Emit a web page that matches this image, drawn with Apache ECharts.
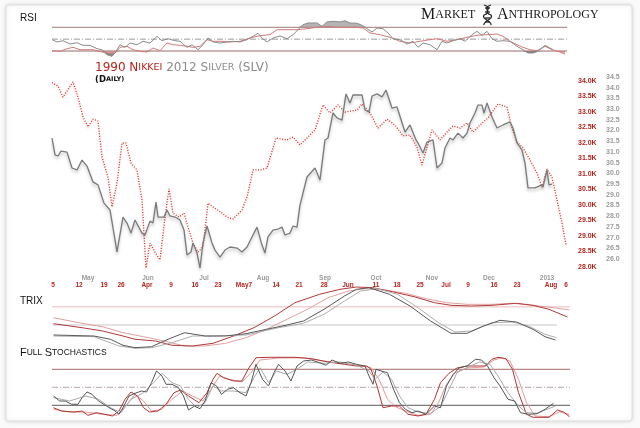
<!DOCTYPE html>
<html>
<head>
<meta charset="utf-8">
<script src="https://cdn.jsdelivr.net/npm/echarts@6/dist/echarts.min.js"></script>
<style>
  html, body { margin: 0; padding: 0; background: #fafafa; }
  #chart { width: 640px; height: 428px; }
</style>
</head>
<body>
<div id="chart"></div>
<script>
// x = trading session counted from the left edge of the chart
const nikkeiClose = [[0,33.95],[1.2,33.84],[2.2,33.48],[4.2,33.97],[5.2,33.48],[6.2,32.84],[7.2,32.52],[8.2,32.77],[9.2,32.71],[10,31.55],[11.2,30.90],[12,29.94],[13,30.71],[14,32.0],[14.8,32.0],[15.8,31.35],[17,31.13],[18,30.16],[18.8,27.97],[19.6,28.77],[20.6,28.48],[21.6,28.23],[22.6,29.61],[23.4,30.52],[24.2,29.74],[25.4,29.61],[26.4,29.74],[27.2,29.29],[28.2,28.77],[29.2,28.48],[30.2,28.65],[31.2,30.06],[32.2,29.94],[34,29.74],[35,29.61],[36.2,29.55],[38,29.84],[39,30.26],[40.2,31.13],[41.6,31.13],[43,31.19],[44.8,32.16],[47,32.10],[48.2,32.19],[49.6,31.94],[51,32.16],[52.6,32.42],[54.2,33.23],[55.6,32.97],[57.2,33.23],[58.6,33.0],[61,33.06],[62,33.26],[63.6,32.97],[65.2,32.48],[67,32.77],[68.6,32.58],[70.2,32.23],[71.6,32.26],[73,31.87],[74,31.29],[75,31.87],[76,32.42],[77.6,32.10],[79,32.35],[80.2,32.55],[81.6,32.48],[83,32.65],[84.2,32.35],[85.6,32.58],[87.2,32.81],[89.2,33.26],[91,33.16],[92,32.48],[93,32.03],[94.2,31.84],[95.6,31.45],[97,31.03],[98,30.58],[99,31.16],[100,30.90],[101,30.16],[102,29.42],[102.8,28.71]];

const silverClose = [[0,31.65],[0.6,30.86],[1.2,30.81],[1.8,31.04],[3,30.99],[4,30.25],[5,30.16],[6,30.62],[7,30.34],[8.2,29.60],[9.2,29.46],[10.4,28.61],[11.6,28.29],[13,26.33],[14.2,27.96],[15,27.68],[15.8,27.21],[16.6,27.82],[17,27.73],[18,27.21],[18.6,27.12],[19.6,27.77],[20.2,27.68],[20.8,28.66],[21.2,27.96],[22.4,27.96],[23,28.29],[23.6,28.01],[24.6,27.96],[25.6,27.82],[26.4,27.35],[27,26.19],[27.8,26.33],[28.2,26.75],[29,26.28],[29.6,25.58],[30.2,26.75],[31,27.54],[32,26.75],[32.6,26.42],[33.6,26.09],[34.6,26.42],[35.6,26.56],[37,26.51],[38,26.33],[39,26.56],[40,27.03],[41,27.49],[42,26.65],[42.6,26.28],[43.2,27.03],[44.2,27.35],[45.2,27.40],[46,27.49],[46.6,27.12],[47.6,27.21],[48.2,27.54],[49,27.49],[49.6,28.52],[51,29.83],[52.6,30.25],[53.6,29.69],[54.6,31.56],[55.2,31.65],[56.2,32.82],[57,32.59],[58,32.49],[58.8,33.71],[59.6,33.29],[60.2,33.66],[62,33.66],[62.6,32.96],[63.4,32.87],[64,33.61],[65,33.71],[66,33.57],[66.8,33.89],[68,33.05],[69,33.10],[70.6,31.93],[71.6,32.26],[72.8,31.56],[73.2,31.42],[74.2,30.95],[75,31.46],[76.2,31.56],[77,30.25],[78,30.48],[78.6,31.18],[79.6,31.65],[80.2,31.56],[81.2,31.88],[82.2,31.65],[83,31.88],[83.6,32.35],[84.6,32.82],[85.2,33.19],[86,33.19],[86.4,32.82],[87,33.29],[88,32.63],[89,32.12],[90.2,32.26],[91.6,32.40],[92.2,32.12],[93,31.42],[94,31.09],[94.6,30.48],[95.2,29.32],[96.6,29.32],[98,29.46],[98.2,29.36],[99,30.16],[99.4,29.46],[100,29.50]];

const silverRsi = [[0,49.1],[1,45.2],[2.2,47.4],[3.6,41.8],[5,44.0],[6.2,39.6],[7.6,39.6],[9,33.9],[10,32.2],[11,23.7],[12,21.0],[12.8,29.5],[13.6,40.6],[14.6,36.2],[15.6,43.5],[17,40.6],[18.2,46.4],[19.6,43.5],[21,54.8],[22,47.4],[23.2,50.8],[24.6,47.4],[25.6,46.4],[27,36.2],[28,40.6],[29.2,32.2],[30.2,40.6],[31.2,51.9],[32.2,45.2],[33.6,43.5],[35,45.2],[36.2,46.4],[37.6,45.2],[39,49.1],[40.2,54.8],[41.2,59.9],[42,51.9],[43,45.2],[44.2,51.9],[45.6,55.3],[47,50.8],[48.2,57.5],[49.2,65.9],[50.2,74.4],[51.2,77.3],[51.6,79.0],[53,77.3],[54,71.7],[55,79.0],[56.2,80.1],[57.6,79.0],[58.6,81.1],[59.6,77.3],[61,76.8],[62,73.4],[63,67.6],[64,62.1],[65,68.8],[66.2,67.6],[67.2,60.4],[68.2,50.8],[69.6,49.1],[71,41.8],[72.2,46.4],[73.2,36.2],[74.2,43.5],[75.6,40.6],[77,32.2],[78,46.4],[79,43.5],[80.2,47.4],[81.6,50.8],[82.6,46.4],[84,57.5],[85,63.2],[86,56.5],[87,63.2],[88,50.8],[89,46.4],[90.2,47.4],[91.6,46.4],[93,37.9],[94.2,32.2],[95.2,26.6],[96.2,26.6],[97.2,29.5],[98.6,39.6],[99.6,35.1],[100.2,32.2]];

const nikkeiRsi = [[0,30.5],[1.6,29.5],[3,33.9],[4.2,36.2],[5.6,32.2],[7,32.2],[8.2,32.2],[10,28.3],[11.2,26.6],[12.6,26.6],[13.6,36.2],[15,37.9],[16.2,32.2],[17.6,29.5],[19,28.3],[20.2,35.1],[21.6,30.5],[23,43.5],[24.2,40.6],[25.6,39.6],[27,37.9],[28.2,36.2],[29.6,37.9],[31,49.1],[32.2,46.4],[34,46.4],[35.6,45.2],[37.6,46.4],[39.6,51.9],[41,54.8],[42.2,56.5],[43.6,57.5],[45,65.9],[47,65.9],[49,65.9],[51,67.6],[53,70.0],[55,71.7],[57,70.0],[59,70.0],[61,70.0],[62.2,68.8],[63.6,60.4],[65.6,57.5],[67.6,53.1],[69.6,46.4],[71.6,43.5],[73.6,46.4],[75.6,49.1],[77,50.8],[79,46.4],[81,49.1],[83,53.1],[85,56.5],[87,57.5],[89,58.7],[90.2,54.8],[91.6,46.4],[93,40.6],[94.2,36.2],[95.6,32.2],[97,30.5],[98.6,37.9],[100,32.2],[101.2,29.5],[102.6,24.9]];

const nikkeiTrix = [[0.3,0.13],[6,-0.27],[10.1,-0.6],[14.2,-1.1],[16.6,-1.43],[20.7,-1.6],[24,-2.03],[28.1,-2.1],[32.2,-1.83],[36.3,-1.1],[40.4,-0.27],[44.5,0.9],[48.6,2.23],[53.5,3.07],[57.6,3.57],[60.9,3.8],[64.2,3.73],[68.3,3.3],[72.4,2.83],[76.5,2.23],[79.8,1.97],[83.9,1.9],[88,1.97],[92.9,2.17],[96.2,1.97],[99.4,1.57],[103.1,0.8]];
const nikkeiTrixSignal = [[0.3,0.73],[6,0.17],[10.1,-0.17],[14.2,-0.77],[18.3,-1.17],[22.4,-1.6],[26.5,-2.1],[30.6,-2.1],[34.7,-1.83],[38.8,-1.27],[42.9,-0.43],[47,0.57],[51.1,1.57],[55.2,2.73],[59.3,3.4],[62.6,3.63],[66.6,3.5],[70.7,3.17],[74.8,2.63],[78.9,2.23],[83,2.07],[88,2.07],[92.1,2.17],[96.2,1.97],[100.3,1.73],[103.5,1.5]];
const silverTrix = [[0.3,-1],[8.4,-1.1],[11.7,-1.43],[14.2,-2.03],[16.6,-2.27],[19.9,-2.17],[23.2,-1.43],[26.5,-0.77],[30.6,-1.1],[34.7,-1.1],[38.8,-0.87],[42.9,-0.43],[47,0],[50.3,0.4],[54.4,1.57],[58.5,2.9],[60.9,3.57],[63.4,3.73],[67.5,3.07],[71.6,1.9],[75.7,0.4],[79.8,-0.83],[83,-0.83],[86.3,-0.1],[89.6,0.47],[92.9,0.3],[96.2,-0.43],[98.6,-1.17],[100.7,-1.5]];
const silverTrixSignal = [[0.3,-1.1],[8.4,-1.17],[13.4,-2.1],[16.6,-2.33],[19.9,-2.27],[24,-1.77],[28.1,-1.1],[32.2,-1.1],[38.8,-1],[45.3,-0.27],[50.3,0.17],[54.4,1.07],[58.5,2.4],[61.7,3.4],[65,3.63],[69.1,3.07],[73.2,1.73],[77.3,0.23],[80.6,-0.7],[83.9,-0.6],[88,0.23],[92.1,0.3],[95.3,-0.1],[98.6,-0.93],[100.9,-1.27]];

const silverStochK = [[0.3,35.5],[1.5,27.2],[2.7,27],[3.9,21.7],[5.2,21.7],[6,32.7],[7,42.2],[8,38.3],[9.3,27.2],[10.9,18.8],[12.6,10.5],[13.4,5],[14.2,16],[15.4,35.5],[16.6,40],[17.9,43.8],[18.9,42.2],[19.9,57.7],[20.9,77.2],[22,68.8],[22.8,55],[24,55],[25.3,49.3],[26.3,35.5],[27.3,12.2],[28.5,18.8],[29.6,14.3],[30.6,27.2],[31.8,57.7],[32.9,52.2],[33.9,38.3],[35.1,46.7],[36.3,49.3],[37.6,41],[38.8,35.5],[39.8,57.7],[40.8,88.3],[42.1,63.3],[43.3,52.2],[44.4,74.3],[45.3,88.3],[46.6,77.2],[47.8,60.5],[49,85.5],[50.3,93.8],[51.9,95.5],[53.5,91],[54.8,86.7],[56,95.5],[57.6,90],[59.3,92.2],[60.9,88.3],[62.6,85.5],[63.4,68.8],[64.2,55],[64.8,80],[65.8,77.2],[67.1,74.3],[68.3,46.7],[69.5,24.3],[70.7,13.3],[72,7.7],[73.2,10.5],[74.8,5],[76.5,18.8],[77.7,16],[78.9,52.2],[80.2,71],[81.4,82.2],[83,85.5],[84.7,96.7],[85.9,95.5],[87.1,85.5],[88.4,66],[89.6,52.2],[91.2,30],[92.5,27.2],[93.7,7.7],[95.3,5],[97,6],[98.6,13.3],[100.3,23.3]];
const silverStochD = [[0.3,32.7],[3.5,27.2],[6.8,35.5],[9.3,30],[11.7,16],[13.8,7.7],[15.8,30],[18.3,41],[20.3,57.7],[22,73.3],[24,57.7],[25.7,52.2],[27.3,30],[28.9,16],[30.6,24.3],[32.2,52.2],[33.9,43.8],[36.3,43.8],[38.8,41],[40.4,66],[41.6,82.7],[43.3,57.7],[44.9,77.2],[47,71.7],[49,80],[51.1,92.2],[54.4,90],[57.6,92.2],[60.9,86.7],[63.4,77.2],[64.6,63.3],[66.2,75.5],[67.9,63.3],[69.5,35.5],[71.2,16],[73.2,8.8],[75.7,6.7],[77.7,17.7],[79.4,46.7],[81,74.3],[83,82.7],[85.5,92.2],[87.6,88.3],[89.2,68.8],[91.2,41],[93.3,18.8],[94.9,7.7],[97,6.7],[99,13.3],[100.7,18.8]];
const nikkeiStochK = [[0.3,16],[1.9,10.5],[4.4,8.8],[6,10.5],[7.2,3.3],[8.9,7.7],[10.5,5],[12.1,2.2],[13.4,10.5],[14.6,30],[15.8,42.2],[17.1,35.5],[18.3,16],[19.5,8.8],[21.2,10.5],[22.8,21.7],[24.4,41],[25.7,45.5],[27.3,35.5],[29.4,24.3],[31,41],[32.2,63.3],[33,73.3],[34.3,66],[36.3,60.5],[38,60.5],[39.2,80],[40.8,99.3],[43.7,100],[48.6,100],[51.9,97.7],[55.2,92.2],[58.5,88.3],[60.9,85.5],[63,85.5],[63.8,80],[65,52.2],[66.2,16],[67.9,18.8],[69.5,18.8],[71.2,5],[73.2,2.2],[74.8,5],[76.5,30],[77.7,57.7],[79.4,73.3],[81,82.2],[83,85.5],[85.1,85.5],[86.7,85.5],[88,96.7],[89.2,100],[90.8,97.7],[92.1,80],[93.3,41],[94.9,5],[96.2,0],[99.4,0],[101.1,12.2],[102.3,8.8],[103.5,1]];
const nikkeiStochD = [[0.3,13.3],[3.5,8.8],[6.8,8.8],[10.1,5],[13,3.3],[15,21.7],[16.6,38.3],[18.3,27.2],[19.9,10.5],[22,13.3],[24,30],[26.1,43.8],[28.1,35.5],[30.2,27.2],[31.8,46.7],[33.5,68.8],[35.5,63.3],[38,58.8],[39.8,74.3],[41.6,95.5],[45.3,98.8],[50.3,99.3],[54.4,93.8],[58.5,90],[61.7,85.5],[63.8,82.7],[65.4,63.3],[67.1,30],[68.7,17.7],[70.7,10.5],[73.2,3.3],[75.7,5],[77.3,24.3],[78.9,55],[80.6,74.3],[83,82.2],[86.3,83.8],[88.4,95.5],[90,99.3],[91.6,93.8],[93.3,63.3],[94.9,24.3],[96.6,2.2],[99.4,1],[101.5,8.8],[103.5,5]];

// tick labels: 1990 weekly dates (red) and 2012 months (grey)
const nikkeiTickDays = [0.2,5.4,10.4,13.8,19,23.8,28.6,33.2,38.4,44.8,49.4,54.4,59.2,64.8,69,73.6,78.8,83.2,88.4,93,99.8,102.8];
const nikkeiTickLabels = ['5','12','19','26','Apr','9','16','23','May7','14','21','28','Jun','11','18','25','Jul','9','16','23','Aug','6'];
const silverTickDays = [7.2,19.2,30.4,42.2,54.6,64.8,76,87.4,99];
const silverTickLabels = ['May','Jun','Jul','Aug','Sep','Oct','Nov','Dec','2013'];

const RED = '#b3261e', SANS = '"Liberation Sans", Arial, sans-serif';

const chart = echarts.init(document.getElementById('chart'));

function line(idx, data, color, extra) {
  return Object.assign({
    type: 'line', xAxisIndex: idx, yAxisIndex: idx, data: data,
    symbol: 'none', silent: true, clip: false, animation: false,
    lineStyle: { color: color, width: 1 }
  }, extra || {});
}
function level(idx, value, end, color, type, width) {
  return line(idx, [[0, value], [end, value]], color, { lineStyle: { color: color, width: width || 1, type: type || 'solid' } });
}
function shade(idx, data, lvl, above, color) {
  const d = data.map(p => [p[0], above ? Math.max(p[1], lvl) : Math.min(p[1], lvl)]);
  return line(idx, d, color, { lineStyle: { width: 0 }, areaStyle: { color: color, origin: lvl, opacity: 1 }, z: 1 });
}

const hiddenX = i => ({ gridIndex: i, type: 'value', min: 0, max: 104, show: false });
const hiddenY = (i, min, max) => ({ gridIndex: i, type: 'value', min: min, max: max, show: false });

// DNA glyph of the logo
const helix = [
  { type: 'bezierCurve', shape: { x1: 484, y1: 5, cpx1: 494, cpy1: 8, cpx2: 482, cpy2: 12, x2: 491, y2: 15 } },
  { type: 'bezierCurve', shape: { x1: 491, y1: 15, cpx1: 494, cpy1: 19, cpx2: 483, cpy2: 21, x2: 484, y2: 25 } },
  { type: 'bezierCurve', shape: { x1: 491, y1: 5, cpx1: 481, cpy1: 8, cpx2: 493, cpy2: 12, x2: 484, y2: 15 } },
  { type: 'bezierCurve', shape: { x1: 484, y1: 15, cpx1: 481, cpy1: 19, cpx2: 492, cpy2: 21, x2: 491, y2: 25 } },
  { type: 'line', shape: { x1: 485, y1: 8, x2: 490, y2: 8 } },
  { type: 'line', shape: { x1: 485, y1: 12, x2: 490, y2: 12 } },
  { type: 'line', shape: { x1: 485, y1: 18, x2: 490, y2: 18 } },
  { type: 'line', shape: { x1: 485, y1: 22, x2: 490, y2: 22 } }
].map(e => Object.assign(e, { style: { fill: null, stroke: '#222', lineWidth: 1.3 } }));

chart.setOption({
  animation: false,
  grid: [
    { left: 52, right: 68, top: 9.5, height: 59.3 },    // RSI
    { left: 52, right: 68, top: 81, height: 186 },      // Nikkei price
    { left: 52, right: 68, top: 77, height: 192.7 },    // Silver price
    { left: 52, right: 68, top: 285, height: 66 },      // TRIX
    { left: 52, right: 68, top: 357.3, height: 60 }     // Stochastics
  ],
  xAxis: [
    hiddenX(0),
    { gridIndex: 1, type: 'value', min: 0, max: 104,
      axisLine: { show: false }, axisTick: { show: false }, splitLine: { show: false },
      axisLabel: { customValues: nikkeiTickDays, margin: 15, color: RED, fontWeight: 'bold', fontSize: 6.5, fontFamily: SANS,
        formatter: v => nikkeiTickLabels[nikkeiTickDays.indexOf(v)] } },
    { gridIndex: 2, type: 'value', min: 0, max: 104,
      axisLine: { show: false }, axisTick: { show: false }, splitLine: { show: false },
      axisLabel: { customValues: silverTickDays, margin: 5, color: '#9a9a9a', fontWeight: 'bold', fontSize: 6.5, fontFamily: SANS,
        formatter: v => silverTickLabels[silverTickDays.indexOf(v)] } },
    hiddenX(3),
    hiddenX(4)
  ],
  yAxis: [
    hiddenY(0, 0, 100),
    { gridIndex: 1, type: 'value', position: 'right', min: 28, max: 34, interval: 0.5,
      axisLine: { show: false }, axisTick: { show: false }, splitLine: { show: false },
      axisLabel: { margin: 6, color: RED, fontWeight: 'bold', fontSize: 7, fontFamily: SANS,
        formatter: v => v.toFixed(1) + 'K' } },
    { gridIndex: 2, type: 'value', position: 'right', min: 25.5, max: 34.5, interval: 0.5,
      axisLine: { show: false }, axisTick: { show: false }, splitLine: { show: false },
      axisLabel: { margin: 34, color: '#9a9a9a', fontWeight: 'bold', fontSize: 7, fontFamily: SANS, showMinLabel: false,
        formatter: v => v.toFixed(1) } },
    hiddenY(3, -2.6, 4),
    hiddenY(4, 0, 100)
  ],
  series: [
    // RSI
    shade(0, silverRsi, 70, true, '#b4b4b4'),
    shade(0, silverRsi, 30, false, '#8a8a8a'),
    shade(0, nikkeiRsi, 30, false, '#e8b0b0'),
    level(0, 70, 103, '#a57878'),
    level(0, 50, 103, '#9a9a9a', [6, 2, 1, 2]),
    level(0, 30, 103, '#9c6a6a'),
    line(0, nikkeiRsi, '#d47a7a'),
    line(0, silverRsi, '#8c8c8c'),
    // prices
    line(1, nikkeiClose, '#d42a22', { lineStyle: { color: '#d42a22', width: 1.3, type: [1, 1.6],
      shadowColor: 'rgba(200,80,80,0.25)', shadowBlur: 2, shadowOffsetY: 2 } }),
    line(2, silverClose, '#7a7a7a', { lineStyle: { color: '#7a7a7a', width: 1.3,
      shadowColor: 'rgba(0,0,0,0.25)', shadowBlur: 3, shadowOffsetY: 2.5 } }),
    // TRIX
    level(3, 1.83, 103.6, '#f2d2d2', 'solid', 1.5),
    level(3, 0, 101, '#c8c8c8', 'solid', 1.2),
    line(3, nikkeiTrixSignal, '#e2a0a0'),
    line(3, nikkeiTrix, '#b23a3a'),
    line(3, silverTrixSignal, '#b0b0b0'),
    line(3, silverTrix, '#5a5a5a'),
    // Full stochastics
    level(4, 80, 103.6, '#a86a6a'),
    level(4, 50, 103.6, '#b8a8a8', [6, 2, 1, 2]),
    level(4, 20, 103.6, '#7a7a7a', 'solid', 1.2),
    line(4, nikkeiStochD, '#e49a9a'),
    line(4, nikkeiStochK, '#b33434'),
    line(4, silverStochD, '#aaaaaa'),
    line(4, silverStochK, '#555555')
  ],
  graphic: [
    { type: 'rect', z: -10, shape: { x: 6, y: 5, width: 626, height: 416, r: 3 },
      style: { fill: '#fff', stroke: '#dedede', lineWidth: 1, shadowBlur: 4, shadowColor: 'rgba(0,0,0,0.15)' } },
    { type: 'text', x: 20, y: 13, style: { text: 'RSI', font: '10px ' + SANS, fill: '#111' } },
    { type: 'text', x: 20, y: 296, style: { text: 'TRIX', font: '10px ' + SANS, fill: '#111' } },
    { type: 'text', x: 20, y: 347, style: {
      text: '{a|F}{b|ULL }{a|S}{b|TOCHASTICS}', fill: '#111',
      rich: { a: { fontSize: 11, fontFamily: SANS, fill: '#111' }, b: { fontSize: 8.5, fontFamily: SANS, fill: '#111' } } } },
    { type: 'text', x: 95, y: 62, style: {
      text: '{r|1990 N}{rs|IKKEI}{g| 2012 S}{gs|ILVER}{g| (SLV)}',
      rich: {
        r: { fontSize: 12, fontFamily: '"DejaVu Sans", sans-serif', fill: RED },
        rs: { fontSize: 9.5, fontFamily: '"DejaVu Sans", sans-serif', fill: RED },
        g: { fontSize: 12, fontFamily: '"DejaVu Sans", sans-serif', fill: '#8c8c8c' },
        gs: { fontSize: 9.5, fontFamily: '"DejaVu Sans", sans-serif', fill: '#8c8c8c' } } } },
    { type: 'text', x: 95, y: 75, style: {
      text: '{a|(D}{b|AILY)}',
      rich: { a: { fontSize: 8.5, fontWeight: 'bold', fontFamily: '"DejaVu Sans", sans-serif', fill: '#111' },
              b: { fontSize: 6.5, fontWeight: 'bold', fontFamily: '"DejaVu Sans", sans-serif', fill: '#111' } } } },
    { type: 'text', x: 421, y: 7, style: {
      text: '{a|M}{b|ARKET}', shadowBlur: 2, shadowColor: 'rgba(0,0,0,0.25)', shadowOffsetY: 1,
      rich: { a: { fontSize: 16, fontFamily: '"Liberation Serif", serif', fill: '#1a1a1a' },
              b: { fontSize: 12, fontFamily: '"Liberation Serif", serif', fill: '#1a1a1a' } } } },
    { type: 'group', children: helix },
    { type: 'text', x: 497, y: 7, style: {
      text: '{a|A}{b|NTHROPOLOGY}', shadowBlur: 2, shadowColor: 'rgba(0,0,0,0.25)', shadowOffsetY: 1,
      rich: { a: { fontSize: 16, fontFamily: '"Liberation Serif", serif', fill: '#1a1a1a' },
              b: { fontSize: 12, fontFamily: '"Liberation Serif", serif', fill: '#1a1a1a' } } } }
  ]
});
</script>
</body>
</html>
